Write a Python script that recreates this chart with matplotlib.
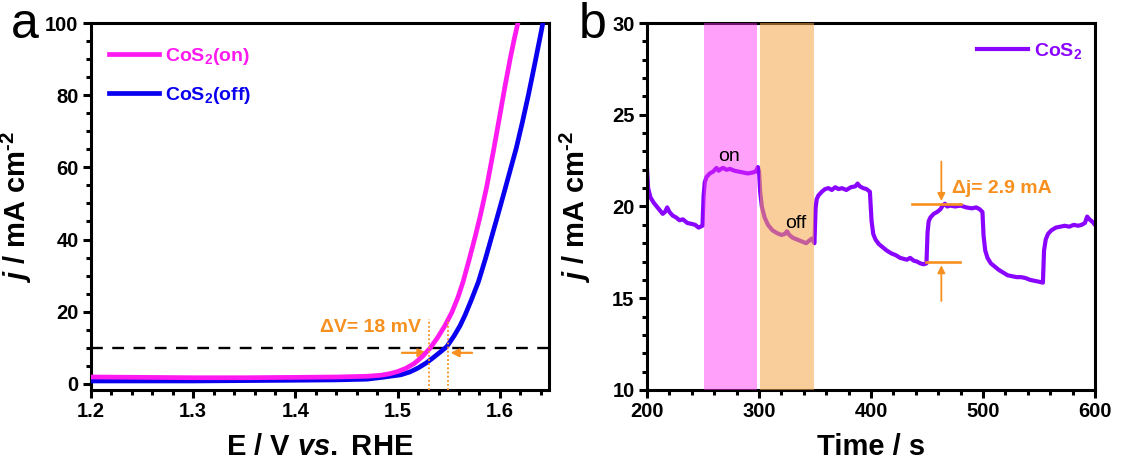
import numpy as np
import matplotlib
matplotlib.use("Agg")
import matplotlib.pyplot as plt

plt.rcParams['font.family'] = ['Liberation Sans', 'DejaVu Sans']
plt.rcParams['font.weight'] = 'bold'
plt.rcParams['mathtext.fontset'] = 'custom'
plt.rcParams['mathtext.rm'] = 'Liberation Sans:bold'
plt.rcParams['mathtext.it'] = 'Liberation Sans:italic:bold'
plt.rcParams['mathtext.bf'] = 'Liberation Sans:bold'

# LSV curves, light on / light off
E_on = [1.20, 1.25, 1.30, 1.35, 1.40, 1.44, 1.47, 1.484, 1.492, 1.500, 1.508, 1.516, 1.524,
        1.532, 1.539, 1.546, 1.553, 1.559, 1.564, 1.570, 1.576, 1.581, 1.587, 1.594,
        1.600, 1.605, 1.610, 1.614, 1.618, 1.621]
j_on = [1.9, 1.8, 1.7, 1.7, 1.8, 1.9, 2.1, 2.4, 2.8, 3.4, 4.3, 5.6, 7.5,
        10.0, 12.8, 16.0, 19.8, 24.0, 28.3, 34.5, 41.0, 46.8, 54.5, 65.0,
        74.5, 82.5, 90.0, 95.5, 100.5, 105.0]
E_off = [1.20, 1.25, 1.30, 1.35, 1.40, 1.44, 1.47, 1.485, 1.495, 1.503, 1.512, 1.520, 1.528,
         1.535, 1.542, 1.548, 1.555, 1.561, 1.566, 1.572, 1.579, 1.586, 1.592, 1.598,
         1.604, 1.610, 1.616, 1.622, 1.628, 1.634, 1.640, 1.643, 1.647]
j_off = [0.8, 0.8, 0.8, 0.9, 1.0, 1.1, 1.3, 1.8, 2.2, 2.5, 3.3, 4.4, 5.8,
         7.3, 8.9, 10.3, 13.2, 16.1, 19.1, 23.2, 28.3, 34.8, 40.8, 46.8,
         52.9, 59.1, 65.3, 72.5, 80.2, 88.5, 97.0, 101.5, 107.0]
E_mark = [1.531, 1.549]

# chopped-light chronoamperometry
t = [200, 201, 203, 206, 210, 214, 216, 218, 220, 223, 226, 229, 232, 236, 240, 243, 246, 249.5,
     250.5, 251.5, 253, 256, 259, 262, 264, 266, 268, 271, 274, 278, 282, 286, 290, 294, 297, 299, 300,
     301, 302.5, 305, 308, 312, 316, 320, 323, 325, 327, 330, 334, 338, 342, 345, 347, 349.5,
     350.5, 351.5, 353, 356, 359, 362, 365, 368, 371, 374, 378, 382, 386, 388, 390, 393, 396, 399,
     400.5, 402, 404, 407, 410, 414, 418, 422, 426, 429, 432, 435, 438, 441, 444, 447, 449.5,
     450.5, 451.5, 453, 456, 459, 462, 464, 466, 468, 471, 475, 480, 485, 490, 494, 497, 499.5,
     500.5, 502, 504, 507, 510, 514, 518, 522, 526, 530, 534, 538, 542, 546, 550, 553.5,
     554.5, 556, 558, 561, 565, 569, 573, 577, 581, 585, 588, 591, 593, 595, 598, 600]
j_t = [22.0, 21.0, 20.5, 20.2, 19.9, 19.6, 19.7, 19.95, 19.7, 19.5, 19.4, 19.25, 19.3, 19.1, 19.05, 19.0, 18.85, 18.95,
       20.6, 21.3, 21.6, 21.8, 21.9, 22.1, 21.95, 22.05, 22.1, 22.0, 22.05, 21.95, 21.9, 21.85, 21.8, 21.85, 21.9, 22.15, 21.9,
       20.8, 20.0, 19.4, 19.0, 18.7, 18.55, 18.45, 18.5, 18.65, 18.45, 18.3, 18.2, 18.1, 18.0, 18.15, 18.25, 18.0,
       19.9, 20.4, 20.6, 20.8, 20.95, 21.0, 20.9, 21.05, 20.95, 21.0, 20.9, 21.05, 21.1, 21.25, 21.1, 21.0, 20.95, 20.8,
       19.2, 18.5, 18.2, 17.95, 17.8, 17.6, 17.45, 17.35, 17.2, 17.15, 17.1, 17.2, 17.05, 17.0, 16.9, 16.85, 16.9,
       18.6, 19.2, 19.4, 19.6, 19.7, 19.85, 20.05, 20.15, 20.0, 20.05, 20.0, 20.05, 19.95, 19.9, 19.95, 19.85, 19.7,
       18.4, 17.6, 17.2, 16.9, 16.75, 16.55, 16.4, 16.25, 16.2, 16.15, 16.15, 16.1, 16.0, 15.95, 15.9, 15.85,
       17.6, 18.2, 18.5, 18.7, 18.85, 18.9, 18.95, 18.9, 19.0, 18.95, 19.0, 19.1, 19.45, 19.3, 19.15, 19.0]

on_band = [250.5, 298]
off_band = [301, 349]
dj_top, dj_bottom = 20.15, 16.95

orange = '#f7901e'
violet = '#8a05ff'
ylab = '$j$ / mA cm$^{\\text{-}2}$'

fig = plt.figure(figsize=(11.21, 4.63), dpi=100)
ax1 = fig.add_axes([0.0812, 0.1577, 0.4085, 0.7926])
ax2 = fig.add_axes([0.5772, 0.1577, 0.3996, 0.7926])

for ax in (ax1, ax2):
    for s in ax.spines.values():
        s.set_linewidth(2.2)
    ax.tick_params(which='major', direction='out', length=6, width=2.2, labelsize=14.5,
                   top=False, right=False, pad=3)
    ax.tick_params(which='minor', direction='out', length=3.5, width=2.2, top=False, right=False)
    ax.minorticks_on()

# ---- panel a
ax1.plot(E_off, j_off, color='#0a00f0', lw=3.4, label='CoS$_2$(off)', zorder=3)
ax1.plot(E_on, j_on, color='#ff1af0', lw=3.4, label='CoS$_2$(on)', zorder=4)
ax1.axhline(10, color='black', lw=1.7, ls=(0, (5, 4)), zorder=2)
for e in E_mark:
    ax1.plot([e, e], [-1.7, 18.0], color=orange, lw=1.3, ls=(0, (1, 1.3)), zorder=5)
ax1.annotate('', xy=(E_mark[0], 8.6), xytext=(1.5015, 8.6),
             arrowprops=dict(arrowstyle='-|>', color=orange, lw=1.6, mutation_scale=12))
ax1.annotate('', xy=(E_mark[1], 8.6), xytext=(1.5755, 8.6),
             arrowprops=dict(arrowstyle='-|>', color=orange, lw=1.6, mutation_scale=12))
ax1.text(1.523, 15.5, '\u0394V= 18 mV', color=orange, fontsize=14, fontweight='bold',
         ha='right', va='center')
ax1.set_xlim(1.2, 1.648)
ax1.set_ylim(-1.7, 100)
ax1.set_xticks([1.2, 1.3, 1.4, 1.5, 1.6])
ax1.set_yticks([0, 20, 40, 60, 80, 100])
ax1.set_xlabel('E / V $vs.$ RHE', fontsize=21, fontweight='bold', labelpad=8)
ax1.set_ylabel(ylab, fontsize=21, fontweight='bold')
ax1.yaxis.set_label_coords(-0.125, 0.5)
h, l = ax1.get_legend_handles_labels()
ax1.legend(h[::-1], l[::-1], loc='upper left', bbox_to_anchor=(0.0, 0.985), frameon=False,
           handlelength=2.6, handletextpad=0.3, labelspacing=0.9,
           labelcolor='linecolor', prop={'weight': 'bold', 'size': 14})
fig.text(0.010, 0.995, 'a', fontsize=36, fontweight='normal', va='top', ha='left')

# ---- panel b
ax2.plot(t, j_t, color=violet, lw=3.0, label='CoS$_2$', zorder=2)
ax2.axvspan(*on_band, color='#ff2cf5', alpha=0.45, lw=0, zorder=3)
ax2.axvspan(*off_band, color='#f7a649', alpha=0.55, lw=0, zorder=3)
ax2.text(273, 22.75, 'on', fontsize=14, fontweight='normal', ha='center', va='center', zorder=4)
ax2.text(333, 19.1, 'off', fontsize=14, fontweight='normal', ha='center', va='center', zorder=4)
ax2.plot([437, 480], [dj_top, dj_top], color=orange, lw=1.9, zorder=4)
ax2.plot([449.5, 479.5], [dj_bottom, dj_bottom], color=orange, lw=1.9, zorder=4)
ax2.annotate('', xy=(462.8, dj_top), xytext=(462.8, 22.6),
             arrowprops=dict(arrowstyle='-|>', color=orange, lw=1.3, mutation_scale=11), zorder=4)
ax2.annotate('', xy=(462.8, dj_bottom), xytext=(462.8, 14.7),
             arrowprops=dict(arrowstyle='-|>', color=orange, lw=1.3, mutation_scale=11), zorder=4)
ax2.text(472, 21.0, '\u0394j= 2.9 mA', color=orange, fontsize=14, fontweight='bold',
         ha='left', va='center', zorder=4)
ax2.set_xlim(200, 600)
ax2.set_ylim(10, 30)
ax2.set_xticks([200, 300, 400, 500, 600])
ax2.set_yticks([10, 15, 20, 25, 30])
ax2.set_xlabel('Time / s', fontsize=21, fontweight='bold', labelpad=8)
ax2.set_ylabel(ylab, fontsize=21, fontweight='bold')
ax2.yaxis.set_label_coords(-0.12, 0.5)
ax2.legend(loc='upper right', bbox_to_anchor=(1.01, 1.0), frameon=False, handlelength=2.6,
           handletextpad=0.3, labelcolor='linecolor', prop={'weight': 'bold', 'size': 14})
fig.text(0.516, 0.995, 'b', fontsize=36, fontweight='normal', va='top', ha='left')

fig.savefig('out.png', dpi=100)
